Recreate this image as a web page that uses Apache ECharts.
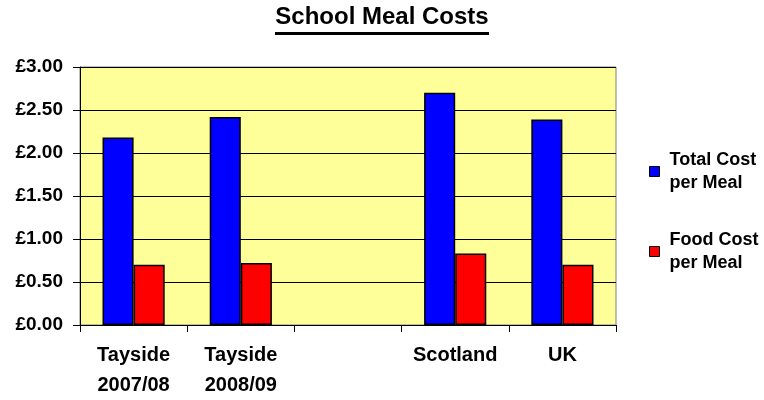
<!DOCTYPE html>
<html>
<head>
<meta charset="utf-8">
<script src="https://cdn.jsdelivr.net/npm/echarts@6/dist/echarts.min.js"></script>
<style>
  html, body { margin: 0; padding: 0; background: #ffffff; }
  #chart { width: 764px; height: 400px; }
</style>
</head>
<body>
<div id="chart"></div>
<script>
// Regions compared; the blank slot separates Tayside from the national figures
const categories = ['Tayside\n2007/08', 'Tayside\n2008/09', '', 'Scotland', 'UK'];
const totalCost = [2.18, 2.42, null, 2.70, 2.39];
const foodCost = [0.70, 0.72, null, 0.83, 0.70];
const yTicks = { min: 0, max: 3, step: 0.5 };
const seriesNames = ['Total Cost\nper Meal', 'Food Cost\nper Meal'];

const font = '"Liberation Sans", Arial, sans-serif';
const chart = echarts.init(document.getElementById('chart'), null, { renderer: 'canvas' });

chart.setOption({
  backgroundColor: '#ffffff',
  animation: false,
  title: {
    text: 'School Meal Costs',
    left: 'center',
    top: 5,
    padding: 0,
    textStyle: { fontFamily: font, fontSize: 24, fontWeight: 'bold', color: '#000' }
  },
  graphic: [{
    // title underline
    type: 'rect',
    left: 'center',
    top: 32,
    shape: { width: 214, height: 3 },
    style: { fill: '#000' }
  }],
  legend: {
    orient: 'vertical',
    left: 649,
    top: 137,
    padding: 0,
    itemGap: 11,
    itemWidth: 10,
    itemHeight: 10,
    icon: 'rect',
    selectedMode: false,
    itemStyle: { borderColor: '#000', borderWidth: 1 },
    textStyle: {
      fontFamily: font, fontSize: 18, fontWeight: 'bold', color: '#000',
      lineHeight: 23, padding: [23, 0, 0, 5]
    },
    data: seriesNames
  },
  grid: {
    left: 80, right: 148, top: 67, bottom: 71,
    show: true,
    backgroundColor: '#FFFF99',
    borderColor: '#808080',
    borderWidth: 1
  },
  xAxis: {
    type: 'category',
    data: categories,
    axisLine: { lineStyle: { color: '#000', width: 1 } },
    axisTick: { show: true, length: 7, lineStyle: { color: '#000' } },
    axisLabel: {
      fontFamily: font, fontSize: 20, fontWeight: 'bold', color: '#000',
      lineHeight: 30, margin: 15, interval: 0
    }
  },
  yAxis: {
    type: 'value',
    min: yTicks.min,
    max: yTicks.max,
    interval: yTicks.step,
    axisLine: { show: true, lineStyle: { color: '#000', width: 1 } },
    axisTick: { show: true, length: 7, lineStyle: { color: '#000' } },
    splitLine: { show: true, lineStyle: { color: '#000', width: 1 } },
    axisLabel: {
      fontFamily: font, fontSize: 19, fontWeight: 'bold', color: '#000',
      margin: 17,
      formatter: v => '£' + v.toFixed(2)
    }
  },
  series: [
    {
      name: seriesNames[0],
      type: 'bar',
      data: totalCost,
      barGap: '0%',
      barCategoryGap: '42%',
      itemStyle: { color: '#0000FF', borderColor: '#000', borderWidth: 1.5 }
    },
    {
      name: seriesNames[1],
      type: 'bar',
      data: foodCost,
      itemStyle: { color: '#FF0000', borderColor: '#000', borderWidth: 1.5 }
    }
  ]
});
</script>
</body>
</html>
